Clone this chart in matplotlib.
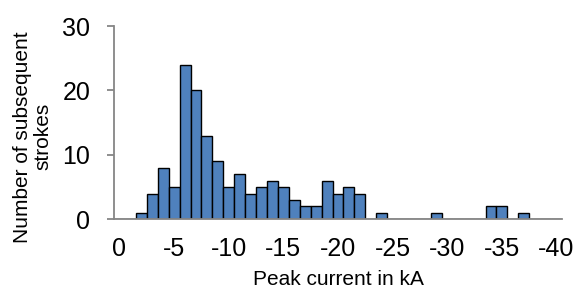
import matplotlib.pyplot as plt

plt.rcParams["font.family"] = ["Liberation Sans", "DejaVu Sans"]
plt.rcParams["axes.unicode_minus"] = False

# Peak current bins (kA) and number of subsequent strokes per bin
currents = [0, -1, -2, -3, -4, -5, -6, -7, -8, -9, -10,
            -11, -12, -13, -14, -15, -16, -17, -18, -19, -20,
            -21, -22, -23, -24, -25, -26, -27, -28, -29, -30,
            -31, -32, -33, -34, -35, -36, -37, -38, -39, -40]
counts = [0, 0, 1, 4, 8, 5, 24, 20, 13, 9, 5,
          7, 4, 5, 6, 5, 3, 2, 2, 6, 4,
          5, 4, 0, 1, 0, 0, 0, 0, 1, 0,
          0, 0, 0, 2, 2, 0, 1, 0, 0, 0]
x_ticks = [0, -5, -10, -15, -20, -25, -30, -35, -40]
y_ticks = [0, 10, 20, 30]

AXIS_GREY = "#868686"

fig = plt.figure(figsize=(5.77, 2.9), dpi=100)
ax = fig.add_axes([0.1976, 0.2438, 0.7764, 0.6665])

ax.bar(currents, counts, width=1.0, color="#4F81BD",
       edgecolor="black", linewidth=1.0)

ax.set_xlim(0.5, -40.5)
ax.set_ylim(0, 30)
ax.set_xticks(x_ticks)
ax.set_xticklabels([str(t) for t in x_ticks])
ax.set_yticks(y_ticks)

for side in ("top", "right"):
    ax.spines[side].set_visible(False)
for side in ("left", "bottom"):
    ax.spines[side].set_color(AXIS_GREY)
    ax.spines[side].set_linewidth(1.3)

ax.tick_params(axis="x", length=0, labelsize=18, pad=13, colors="black")
ax.tick_params(axis="y", length=5, width=1.3, color=AXIS_GREY,
               labelsize=18, pad=12, labelcolor="black")

# axis titles placed as figure text to match the offset layout
fig.text(0.5859, 0.003, "Peak current in kA", fontsize=15,
         ha="center", va="bottom")
fig.text(0.0572, 0.5286, "Number of subsequent\nstrokes", fontsize=15,
         rotation=90, ha="center", va="center", multialignment="center",
         linespacing=1.1)

fig.savefig("out.png", dpi=100)
